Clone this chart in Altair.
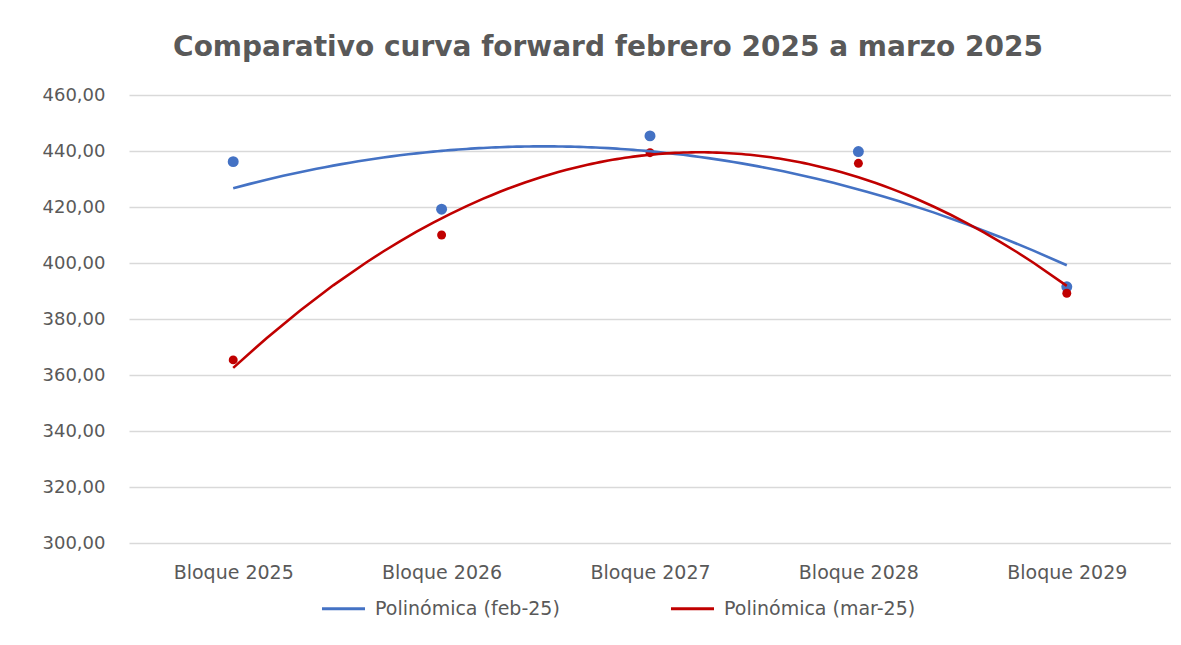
import altair as alt
import pandas as pd

categories = ["Bloque 2025", "Bloque 2026", "Bloque 2027", "Bloque 2028", "Bloque 2029"]
feb_values = [436.2, 419.2, 445.4, 439.8, 391.5]
mar_values = [365.4, 410.0, 439.4, 435.6, 389.2]
series_names = ["Polinómica (feb-25)", "Polinómica (mar-25)"]
series_colors = ["#4472C4", "#C00000"]
y_ticks = [300, 320, 340, 360, 380, 400, 420, 440, 460]

rows = []
for i, c in enumerate(categories):
    rows.append({"x": i, "cat": c, "value": feb_values[i], "serie": series_names[0]})
    rows.append({"x": i, "cat": c, "value": mar_values[i], "serie": series_names[1]})
df = pd.DataFrame(rows)

FONT = "DejaVu Sans"
GRAY = "#595959"

label_expr = "[" + ",".join("'" + c + "'" for c in categories) + "][datum.value]"

x_enc = alt.X(
    "x:Q",
    scale=alt.Scale(domain=[-0.5, 4.5], nice=False, zero=False),
    axis=alt.Axis(
        values=list(range(len(categories))),
        labelExpr=label_expr,
        title=None,
        grid=False,
        ticks=False,
        tickSize=0,
        domain=False,
        labelPadding=20,
        labelFontSize=19,
        labelColor=GRAY,
        labelFont=FONT,
    ),
)
y_enc = alt.Y(
    "value:Q",
    scale=alt.Scale(domain=[300, 460], nice=False, zero=False),
    axis=alt.Axis(
        values=y_ticks,
        labelExpr="replace(format(datum.value, '.2f'), '.', ',')",
        title=None,
        ticks=False,
        tickSize=0,
        domain=False,
        gridColor="#D9D9D9",
        gridWidth=1.3,
        labelPadding=24,
        labelFontSize=18,
        labelColor=GRAY,
        labelFont=FONT,
        minExtent=121,
        maxExtent=121,
    ),
)

color_scale = alt.Scale(domain=series_names, range=series_colors)

lines = (
    alt.Chart(df)
    .transform_regression("x", "value", method="poly", order=2, groupby=["serie"])
    .mark_line(strokeWidth=2.6)
    .encode(
        x=x_enc,
        y=y_enc,
        color=alt.Color(
            "serie:N",
            scale=color_scale,
            legend=alt.Legend(
                title=None,
                orient="none",
                direction="horizontal",
                legendX=191,
                legendY=490,
                symbolType="stroke",
                symbolSize=1850,
                symbolStrokeWidth=3,
                labelFontSize=19,
                labelColor=GRAY,
                labelFont=FONT,
                labelOffset=8,
                labelLimit=400,
                columnPadding=104,
            ),
        ),
    )
)

pts_feb = (
    alt.Chart(df)
    .transform_filter(alt.datum.serie == series_names[0])
    .mark_circle(size=120, opacity=1, color=series_colors[0])
    .encode(x=x_enc, y=y_enc)
)
pts_mar = (
    alt.Chart(df)
    .transform_filter(alt.datum.serie == series_names[1])
    .mark_circle(size=80, opacity=1, color=series_colors[1])
    .encode(x=x_enc, y=y_enc)
)

chart = (
    alt.layer(pts_feb, pts_mar, lines)
    .properties(
        width=1042,
        height=448,
        padding={"left": 0, "top": 26, "right": 0, "bottom": 0},
        title=alt.TitleParams(
            "Comparativo curva forward febrero 2025 a marzo 2025",
            fontSize=28,
            font="DejaVu Sans",
            fontWeight="bold",
            color=GRAY,
            anchor="middle",
            offset=24,
            dx=-42,
        ),
    )
    .configure_view(strokeWidth=0)
)

chart.save("out.html", embed_options={"renderer": "svg", "actions": False})
